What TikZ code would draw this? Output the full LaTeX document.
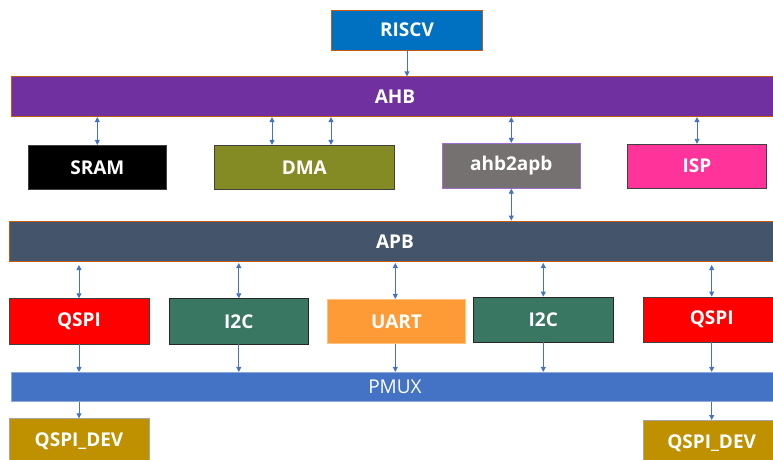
\documentclass[tikz,border=0pt]{standalone}
\usepackage{fontspec}
\setmainfont{Open Sans}
\usetikzlibrary{arrows.meta,calc}

\definecolor{cpuBlue}{HTML}{0070C0}
\definecolor{busEdge}{HTML}{C55A11}
\definecolor{ahbPurple}{HTML}{7030A0}
\definecolor{apbSlate}{HTML}{44546A}
\definecolor{dmaOlive}{HTML}{858B24}
\definecolor{bridgeGray}{HTML}{767171}
\definecolor{bridgeEdge}{HTML}{9F6FD0}
\definecolor{ispPink}{HTML}{FF3399}
\definecolor{i2cGreen}{HTML}{3A7762}
\definecolor{uartOrange}{HTML}{FF9B36}
\definecolor{uartEdge}{HTML}{FFC080}
\definecolor{pmuxBlue}{HTML}{4472C4}
\definecolor{pmuxEdge}{HTML}{8EA9DB}
\definecolor{devGold}{HTML}{BF9000}
\definecolor{linkBlue}{HTML}{4472C4}

\tikzset{
  blk/.style={draw, line width=0.8pt, minimum height=#1, inner sep=0pt,
    text=white, font=\fontsize{19}{22}\selectfont\bfseries},
  blk/.default=44pt,
  link/.style={draw=linkBlue, line width=0.9pt,
    -{Triangle[length=5pt,width=5pt]}},
  bilink/.style={draw=linkBlue, line width=0.9pt,
    {Triangle[length=5pt,width=5pt]}-{Triangle[length=5pt,width=5pt]}},
}

\begin{document}
\begin{tikzpicture}[x=1pt,y=-1pt]
\useasboundingbox (0,0) rectangle (773,460);

% CPU and AHB bus
\node[blk=40pt, minimum width=151pt, fill=cpuBlue, draw=busEdge] (riscv) at (407,30) {RISCV};
\node[blk=40pt, minimum width=764pt, fill=ahbPurple, draw=busEdge, anchor=west] (ahb) at (10.7,96.7) {};
\node[text=white, font=\fontsize{19}{22}\selectfont\bfseries] (ahbtxt) at (395,96.7) {AHB};

% AHB slaves
\node[blk, minimum width=138pt, fill=black, draw=black!75] (sram) at (97.3,167.3) {SRAM};
\node[blk, minimum width=180pt, fill=dmaOlive, draw=black!75] (dma) at (304.3,167.3) {DMA};
\node[blk=45pt, minimum width=138pt, fill=bridgeGray, draw=bridgeEdge] (bridge) at (511.3,165.8) {ahb2apb};
\node[blk, minimum width=139.4pt, fill=ispPink, draw=black!75] (isp) at (697,166.2) {ISP};

% APB bus
\node[blk=40.7pt, minimum width=766pt, fill=apbSlate, draw=busEdge, anchor=west] (apb) at (9,241.3) {};
\node[text=white, font=\fontsize{19}{22}\selectfont\bfseries] (apbtxt) at (395,241.3) {APB};

% APB peripherals
\node[blk=45.3pt, minimum width=140pt, fill=red, draw=black!75] (qspiA) at (79,321.3) {QSPI};
\node[blk=45.3pt, minimum width=139.7pt, fill=i2cGreen, draw=black!85] (i2cA) at (238.8,321.3) {I2C};
\node[blk=44pt, minimum width=138.4pt, fill=uartOrange, draw=uartEdge] (uart) at (396.5,321.3) {UART};
\node[blk=45pt, minimum width=140pt, fill=i2cGreen, draw=black!85] (i2cB) at (543.3,319.5) {I2C};
\node[blk=45pt, minimum width=137.4pt, fill=red, draw=black!75] (qspiB) at (711.7,319.5) {QSPI};

% Pin multiplexer
\node[blk=29pt, minimum width=764pt, fill=pmuxBlue, draw=pmuxEdge, anchor=west] (pmux) at (11,386.8) {};
\node[text=white, font=\fontsize{19}{22}\selectfont] (pmuxtxt) at (395,386.8) {PMUX};

% External devices
\node[blk=46pt, minimum width=140pt, fill=devGold, draw=black!35, anchor=north] (devA) at (79,418.3) {\raisebox{-1pt}{QSPI\_DEV}};
\node[blk=46pt, minimum width=137.4pt, fill=devGold, draw=black!35, anchor=north] (devB) at (711.7,420) {\raisebox{-2pt}{QSPI\_DEV}};

% CPU to AHB
\draw[link] (riscv.south) -- (riscv |- ahb.north);

% AHB to slaves
\draw[bilink] (sram |- ahb.south) -- (sram.north);
\draw[bilink] ([xshift=-32.3pt]dma.north |- ahb.south) -- ([xshift=-32.3pt]dma.north);
\draw[bilink] ([xshift=26.7pt]dma.north |- ahb.south) -- ([xshift=26.7pt]dma.north);
\draw[bilink] (bridge |- ahb.south) -- (bridge.north);
\draw[bilink] (isp |- ahb.south) -- (isp.north);

% Bridge to APB
\draw[bilink] (bridge.south) -- (bridge |- apb.north);

% APB to peripherals
\draw[bilink, shorten <=3pt] (qspiA |- apb.south) -- (qspiA.north);
\draw[bilink, shorten <=1pt] (i2cA |- apb.south) -- (i2cA.north);
\draw[bilink, shorten <=1pt] ([xshift=-1.2pt]uart.north |- apb.south) -- ([xshift=-1.2pt]uart.north);
\draw[bilink, shorten <=1pt] (i2cB |- apb.south) -- (i2cB.north);
\draw[bilink, shorten <=3pt] (qspiB |- apb.south) -- (qspiB.north);

% Peripherals to PMUX
\draw[link] (qspiA.south) -- (qspiA |- pmux.north);
\draw[link] (i2cA.south) -- (i2cA |- pmux.north);
\draw[link] ([xshift=-1.2pt]uart.south) -- ([xshift=-1.2pt]uart.south |- pmux.north);
\draw[link] (i2cB.south) -- (i2cB |- pmux.north);
\draw[link] (qspiB.south) -- (qspiB |- pmux.north);

% PMUX to devices
\draw[link] (devA |- pmux.south) -- (devA.north);
\draw[link] (devB |- pmux.south) -- (devB.north);
\end{tikzpicture}
\end{document}
